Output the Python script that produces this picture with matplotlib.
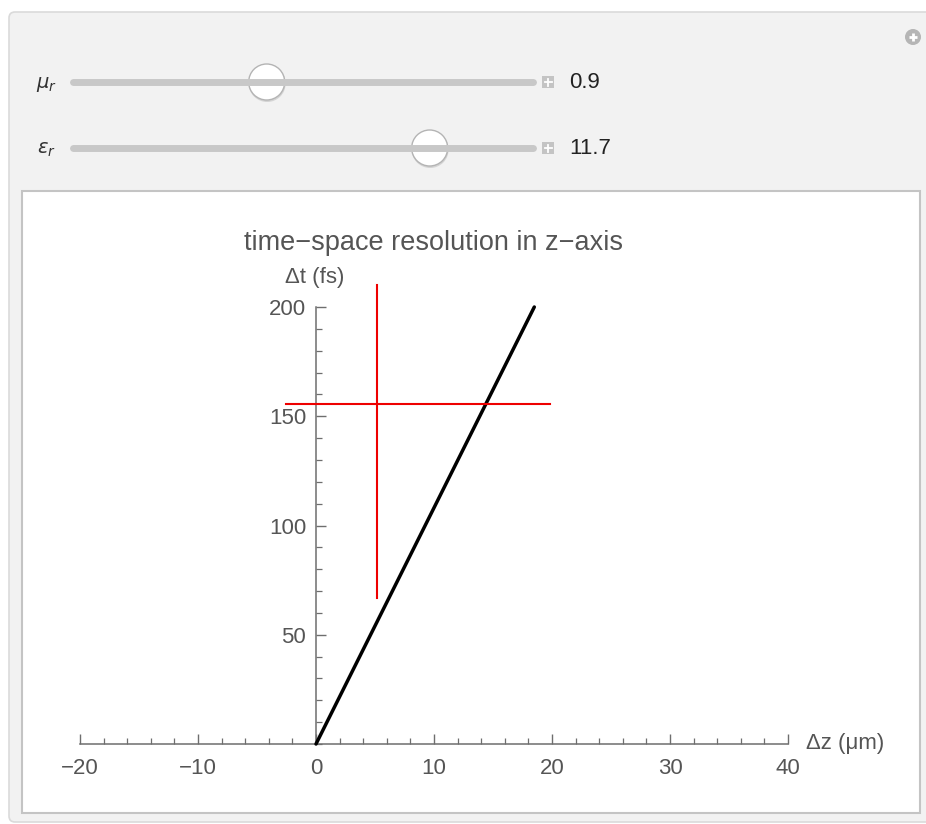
import matplotlib.pyplot as plt
from matplotlib.patches import FancyBboxPatch, Rectangle, Circle
from matplotlib.ticker import MultipleLocator

plt.rcParams['font.family'] = ['Liberation Sans', 'DejaVu Sans']

# slider settings
mu_r = 0.9
eps_r = 11.7
mu_range = (0.1, 2.0)
eps_range = (1.0, 14.8)

# resolution line (dz in um, dt in fs)
line_dz = [0.0, 18.5]
line_dt = [0.0, 200.0]

# red marker cross
cross_dz = 5.2
cross_dt = 155.5
cross_dz_span = (-2.5, 19.8)
cross_dt_span = (67.0, 210.0)

x_ticks = [-20, -10, 0, 10, 20, 30, 40]
y_ticks = [50, 100, 150, 200]

W, H = 926, 824
fig = plt.figure(figsize=(W / 100, H / 100), dpi=100)

# background panel drawn in pixel units
bg = fig.add_axes([0, 0, 1, 1])
bg.set_xlim(0, W)
bg.set_ylim(H, 0)
bg.axis('off')
bg.add_patch(FancyBboxPatch((9, 12), 960, 810, boxstyle='round,pad=0,rounding_size=6',
                            facecolor='#f2f2f2', edgecolor='#dadada', lw=1.2))
bg.add_patch(Rectangle((22, 191), 898, 622, facecolor='white', edgecolor='#c4c4c4', lw=1.5))

# top-right "+" button
bg.add_patch(Circle((913, 37), 8, facecolor='#b5b5b5', edgecolor='none'))
bg.plot([909, 917], [37, 37], color='white', lw=2, solid_capstyle='butt')
bg.plot([913, 913], [33, 41], color='white', lw=2, solid_capstyle='butt')


def slider(y, label, value, vrange):
    x0, x1 = 73, 533
    bg.text(46, y + 2, label, ha='center', va='center', fontsize=14, color='#333333')
    bg.plot([x0, x1], [y, y], color='#c8c8c8', lw=5, solid_capstyle='round')
    frac = (value - vrange[0]) / (vrange[1] - vrange[0])
    kx = x0 + frac * (x1 - x0)
    bg.add_patch(Circle((kx + 0.5, y + 1.5), 18.5, facecolor='#d4d4d4', edgecolor='none'))
    bg.add_patch(Circle((kx, y), 18, facecolor='white', edgecolor='#b4b4b4', lw=1))
    bg.add_patch(Rectangle((542, y - 6), 12, 12, facecolor='#c4c4c4', edgecolor='none'))
    bg.plot([544.5, 551.5], [y, y], color='white', lw=1.3)
    bg.plot([548, 548], [y - 3.5, y + 3.5], color='white', lw=1.3)
    bg.text(569, y, f'{value:g}', ha='left', va='center', fontsize=16, color='#222222')


slider(82, r'$\mu_r$', mu_r, mu_range)
slider(148, r'$\epsilon_r$', eps_r, eps_range)

# plot area: x -20..40 -> px 80..788, y 0..200 -> px 743..307
ax = fig.add_axes([80 / W, (H - 744) / H, 708 / W, 437 / H])
ax.patch.set_alpha(0)
ax.set_xlim(-20, 40)
ax.set_ylim(0, 200)

axis_col = '#6e6e6e'
for side in ['top', 'right']:
    ax.spines[side].set_visible(False)
ax.spines['left'].set_position(('data', 0))
ax.spines['bottom'].set_position(('data', 0))
ax.spines['left'].set_bounds(0, 200)
ax.spines['bottom'].set_bounds(-20, 40)
for side in ['left', 'bottom']:
    ax.spines[side].set_color(axis_col)
    ax.spines[side].set_linewidth(1.1)

ax.set_xticks(x_ticks)
ax.set_xticklabels(['\u221220', '\u221210', '0', '10', '20', '30', '40'])
ax.set_yticks(y_ticks)
ax.set_yticklabels([str(v) for v in y_ticks])
ax.xaxis.set_minor_locator(MultipleLocator(2))
ax.yaxis.set_minor_locator(MultipleLocator(10))
ax.tick_params(axis='both', which='both', direction='in', color=axis_col,
               labelcolor='#555555', labelsize=16)
ax.tick_params(which='major', length=7, width=1)
ax.tick_params(which='minor', length=4.5, width=0.9)
ax.tick_params(axis='x', pad=10)
ax.tick_params(axis='y', pad=7)

ax.plot(line_dz, line_dt, color='black', lw=2.5, solid_capstyle='round', clip_on=False, zorder=3)
ax.plot(cross_dz_span, [cross_dt, cross_dt], color='#ee0000', lw=1.5, clip_on=False, zorder=4)
ax.plot([cross_dz, cross_dz], cross_dt_span, color='#ee0000', lw=1.5, clip_on=False, zorder=4)

fig.text(434 / W, 1 - 243 / H, 'time\u2212space resolution in z\u2212axis', ha='center', va='center',
         fontsize=19.5, color='#555555')
fig.text(315 / W, 1 - 278 / H, '\u0394t (fs)', ha='center', va='center', fontsize=16, color='#555555')
fig.text(806 / W, 1 - 743 / H, '\u0394z (\u03bcm)', ha='left', va='center', fontsize=16, color='#555555')

fig.savefig('out.png', dpi=100)
